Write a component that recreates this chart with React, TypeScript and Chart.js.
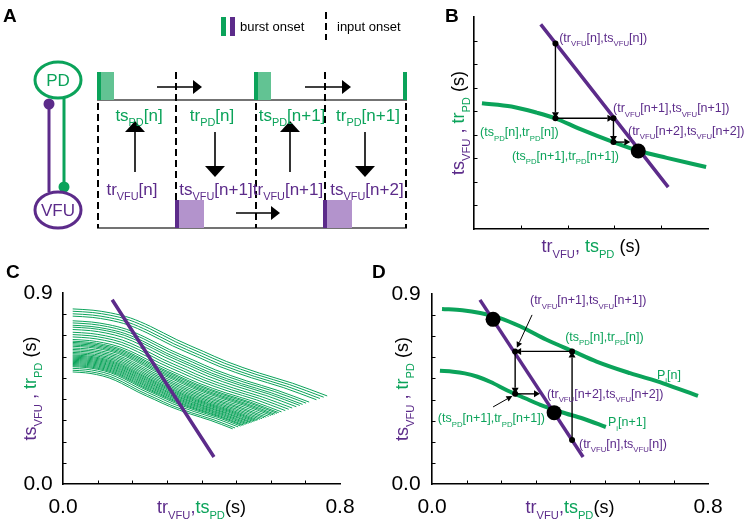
import React, { useEffect, useRef } from "react";
import { Chart, registerables } from "chart.js";
Chart.register(...registerables);

const FONT = '"Liberation Sans", Arial, Helvetica, sans-serif';
const GREEN = "#0ba35a";
const GREEN_LIGHT = "#62c393";
const PURPLE = "#5c2b8a";
const PURPLE_LIGHT = "#b393cc";
const BLACK = "#000000";

// ---------------- Panel A: schematic timeline (time in arbitrary units) ----------------
const timelineStart = 0;
const timelineEnd = 310;
const pdBurstOnsets = [0, 157, 306];
const pdBurstDurations = [17, 17, 4];
const vfuBurstOnsets = [78, 226];
const vfuBurstDurations = [29, 29];
const onsetMarkWidth = 4;
const pdInputTimes = [1, 159, 309];
const vfuInputTimes = [79, 228];
const pdLabelTimes = [42, 115, 195, 271];
const pdLabels = ["ts_{PD}[n]", "tr_{PD}[n]", "ts_{PD}[n+1]", "tr_{PD}[n+1]"];
const vfuLabelTimes = [35, 119, 191, 270];
const vfuLabels = ["tr_{VFU}[n]", "ts_{VFU}[n+1]", "tr_{VFU}[n+1]", "ts_{VFU}[n+2]"];
const upArrowTimes = [38, 193];
const downArrowTimes = [118, 268];
const pdShiftArrowStarts = [60, 208];
const pdShiftArrowEnds = [105, 254];
const vfuShiftArrowStarts = [139];
const vfuShiftArrowEnds = [183];

const profileT = [0, 0.08, 0.149, 0.227, 0.305, 0.409, 0.513, 0.604, 0.734, 0.864, 1];
const profileS = [1, 0.985, 0.954, 0.896, 0.8, 0.646, 0.512, 0.396, 0.262, 0.146, 0];

// ---------------- Panel B ----------------
const bGreenX = [0.017, 0.08, 0.134, 0.174, 0.226, 0.298, 0.353, 0.412, 0.496];
const bGreenY = [0.534, 0.52, 0.494, 0.47, 0.425, 0.369, 0.331, 0.302, 0.263];
const bPurpleX = [0.1426, 0.415];
const bPurpleY = [0.869, 0.178];
const bIterX = [0.174, 0.174, 0.298, 0.298];
const bIterY = [0.788, 0.47, 0.47, 0.369];
const bPathX = [0.174, 0.174, 0.298, 0.298, 0.334];
const bPathY = [0.788, 0.47, 0.47, 0.369, 0.369];
const bFixedX = [0.351];
const bFixedY = [0.331];
const bLabelText = [
  "(tr_{VFU}[n],ts_{VFU}[n])",
  "(tr_{VFU}[n+1],ts_{VFU}[n+1])",
  "(tr_{VFU}[n+2],ts_{VFU}[n+2])",
  "(ts_{PD}[n],tr_{PD}[n])",
  "(ts_{PD}[n+1],tr_{PD}[n+1])",
];
const bLabelX = [0.182, 0.297, 0.329, 0.013, 0.081];
const bLabelY = [0.815, 0.514, 0.42, 0.412, 0.314];
const bLabelIsGreen = [false, false, false, true, true];

// ---------------- Panel C ----------------
const cPurpleX = [0.142, 0.436];
const cPurpleY = [0.868, 0.127];
const cStartX = 0.028;
const cStartY = [
  0.825, 0.814, 0.802, 0.791, 0.769, 0.759, 0.748, 0.739, 0.728, 0.715, 0.704, 0.693, 0.681,
  0.673, 0.667, 0.661, 0.655, 0.649, 0.641, 0.634, 0.627, 0.62, 0.614, 0.608, 0.603, 0.598,
  0.593, 0.588, 0.583, 0.578, 0.573, 0.568, 0.563, 0.558, 0.553, 0.545, 0.536, 0.528,
];
const cEndX = [
  0.763, 0.753, 0.742, 0.732, 0.711, 0.702, 0.692, 0.684, 0.674, 0.662, 0.652, 0.642, 0.631,
  0.623, 0.618, 0.612, 0.607, 0.601, 0.594, 0.587, 0.581, 0.575, 0.569, 0.563, 0.559, 0.554,
  0.55, 0.545, 0.541, 0.536, 0.531, 0.527, 0.522, 0.518, 0.513, 0.506, 0.497, 0.49,
];
const cEndY = [
  0.415, 0.409, 0.403, 0.397, 0.386, 0.381, 0.375, 0.37, 0.364, 0.358, 0.352, 0.346, 0.34,
  0.336, 0.333, 0.329, 0.326, 0.323, 0.319, 0.315, 0.312, 0.308, 0.305, 0.302, 0.299, 0.297,
  0.294, 0.291, 0.289, 0.286, 0.284, 0.281, 0.278, 0.276, 0.273, 0.269, 0.264, 0.26,
];

// ---------------- Panel D ----------------
const dUpperX = [0.029, 0.088, 0.14, 0.197, 0.255, 0.332, 0.41, 0.477, 0.574, 0.67, 0.771];
const dUpperY = [0.829, 0.823, 0.81, 0.786, 0.747, 0.683, 0.628, 0.58, 0.525, 0.477, 0.417];
const dLowerX = [0.023, 0.061, 0.095, 0.132, 0.17, 0.22, 0.27, 0.314, 0.376, 0.439, 0.504];
const dLowerY = [0.536, 0.532, 0.524, 0.508, 0.483, 0.442, 0.406, 0.375, 0.34, 0.309, 0.27];
const dPurpleX = [0.139, 0.438];
const dPurpleY = [0.872, 0.128];
const dIterX = [0.406, 0.406, 0.241, 0.241];
const dIterY = [0.209, 0.628, 0.628, 0.427];
const dPathX = [0.406, 0.406, 0.241, 0.241, 0.313];
const dPathY = [0.209, 0.628, 0.628, 0.427, 0.427];
const dFixedX = [0.177, 0.354];
const dFixedY = [0.78, 0.338];
const dPointerFromX = [0.29, 0.177];
const dPointerFromY = [0.801, 0.365];
const dPointerToX = [0.246, 0.233];
const dPointerToY = [0.645, 0.417];
const dLabelText = [
  "(tr_{VFU}[n+1],ts_{VFU}[n+1])",
  "(ts_{PD}[n],tr_{PD}[n])",
  "P_{i}[n]",
  "(tr_{VFU}[n+2],ts_{VFU}[n+2])",
  "(ts_{PD}[n+1],tr_{PD}[n+1])",
  "P_{i}[n+1]",
  "(tr_{VFU}[n],ts_{VFU}[n])",
];
const dLabelX = [0.284, 0.386, 0.652, 0.333, 0.017, 0.51, 0.426];
const dLabelY = [0.872, 0.701, 0.521, 0.431, 0.313, 0.294, 0.194];
const dLabelIsGreen = [false, true, true, false, true, true, false];

// ---------------- helpers ----------------
type Seg = { t: string; c: string; sub?: boolean };

function rich(str: string, color: string): Seg[] {
  const out: Seg[] = [];
  const re = /_\{([^}]*)\}/g;
  let last = 0;
  let m: RegExpExecArray | null;
  while ((m = re.exec(str))) {
    if (m.index > last) out.push({ t: str.slice(last, m.index), c: color });
    out.push({ t: m[1], c: color, sub: true });
    last = m.index + m[0].length;
  }
  if (last < str.length) out.push({ t: str.slice(last), c: color });
  return out;
}

function drawRich(ctx: CanvasRenderingContext2D, segs: Seg[], x: number, y: number, size: number, align = "left", subRatio = 0.62, subDrop = 0.32) {
  const subSize = size * subRatio;
  const widths = segs.map((s) => {
    ctx.font = `${s.sub ? subSize : size}px ${FONT}`;
    return ctx.measureText(s.t).width;
  });
  const total = widths.reduce((a, b) => a + b, 0);
  let cx = align === "center" ? x - total / 2 : x;
  const base = y + size * 0.36;
  ctx.textAlign = "left";
  ctx.textBaseline = "alphabetic";
  segs.forEach((s, i) => {
    ctx.font = `${s.sub ? subSize : size}px ${FONT}`;
    ctx.fillStyle = s.c;
    ctx.fillText(s.t, cx, s.sub ? base + size * subDrop : base);
    cx += widths[i];
  });
}

function arrow(ctx: CanvasRenderingContext2D, x0: number, y0: number, x1: number, y1: number, head: number, half: number, lw: number, color = BLACK) {
  const dx = x1 - x0;
  const dy = y1 - y0;
  const len = Math.hypot(dx, dy) || 1;
  const ux = dx / len;
  const uy = dy / len;
  const bx = x1 - ux * head;
  const by = y1 - uy * head;
  ctx.strokeStyle = color;
  ctx.lineWidth = lw;
  ctx.setLineDash([]);
  ctx.beginPath();
  ctx.moveTo(x0, y0);
  ctx.lineTo(bx, by);
  ctx.stroke();
  ctx.fillStyle = color;
  ctx.beginPath();
  ctx.moveTo(x1, y1);
  ctx.lineTo(bx - uy * half, by + ux * half);
  ctx.lineTo(bx + uy * half, by - ux * half);
  ctx.closePath();
  ctx.fill();
}

const pts = (xs: number[], ys: number[]) => xs.map((x, i) => ({ x, y: ys[i] }));

function profileCurve(x0: number, y0: number, x1: number, y1: number) {
  return profileT.map((t, k) => ({ x: x0 + t * (x1 - x0), y: y1 + profileS[k] * (y0 - y1) }));
}

function lineDs(data: any[], color: string, width: number, order = 5) {
  return {
    data,
    showLine: true,
    borderColor: color,
    borderWidth: width,
    pointRadius: 0,
    cubicInterpolationMode: "monotone",
    fill: false,
    order,
  };
}

function dotDs(data: any[], r: number) {
  return { data, showLine: false, pointRadius: r, backgroundColor: BLACK, borderWidth: 0, order: 0 };
}

function baseOptions(pad: any, xMax: number, yMax: number, showAxes: boolean) {
  const axis = (max: number, position: string) => ({
    type: "linear",
    position,
    min: 0,
    max,
    display: showAxes,
    grid: { display: false, drawTicks: false },
    ticks: { display: false, stepSize: 0.1 },
    border: { display: true, color: BLACK, width: 1.6 },
  });
  return {
    responsive: false,
    animation: false,
    events: [],
    layout: { padding: pad },
    plugins: { legend: { display: false }, tooltip: { enabled: false } },
    scales: { x: axis(xMax, "bottom"), y: axis(yMax, "left") },
  };
}

const xTitleTight: Seg[] = [...rich("tr_{VFU}", PURPLE), { t: ",", c: PURPLE }, ...rich("ts_{PD}", GREEN), { t: "(s)", c: BLACK }];
const xTitleSpaced: Seg[] = [...rich("tr_{VFU}", PURPLE), { t: ", ", c: PURPLE }, ...rich("ts_{PD}", GREEN), { t: " (s)", c: BLACK }];
const yTitle: Seg[] = [...rich("ts_{VFU}", PURPLE), { t: " , ", c: PURPLE }, ...rich("tr_{PD}", GREEN), { t: " (s)", c: BLACK }];

function axisDecor(id: string, cfg: any) {
  return {
    id,
    afterDraw(chart: any) {
      const { ctx, chartArea: a } = chart;
      const xs = chart.scales.x;
      const ys = chart.scales.y;
      ctx.save();
      ctx.strokeStyle = BLACK;
      ctx.lineWidth = 1;
      xs.ticks.forEach((t: any) => {
        if (t.value <= xs.min + 1e-9 || t.value >= xs.max - 1e-9) return;
        const px = Math.round(xs.getPixelForValue(t.value)) + 0.5;
        ctx.beginPath();
        ctx.moveTo(px, a.bottom);
        ctx.lineTo(px, a.bottom - 3.5);
        ctx.stroke();
      });
      ys.ticks.forEach((t: any) => {
        if (t.value <= ys.min + 1e-9 || t.value >= ys.max - 1e-9) return;
        const py = Math.round(ys.getPixelForValue(t.value)) + 0.5;
        ctx.beginPath();
        ctx.moveTo(a.left, py);
        ctx.lineTo(a.left + 3.5, py);
        ctx.stroke();
      });
      ctx.fillStyle = BLACK;
      ctx.font = `21px ${FONT}`;
      ctx.textAlign = "center";
      ctx.textBaseline = "middle";
      (cfg.xTickLabels || []).forEach((v: number) => {
        ctx.fillText(v.toFixed(1), xs.getPixelForValue(v), a.bottom + cfg.xLabelDy);
      });
      (cfg.yTickLabels || []).forEach((v: number) => {
        ctx.fillText(v.toFixed(1), a.left + cfg.yLabelDx, ys.getPixelForValue(v));
      });
      drawRich(ctx, cfg.xTitle, (a.left + a.right) / 2, a.bottom + cfg.xTitleDy, 18, "center", 0.62, 0.3);
      ctx.translate(a.left + cfg.yTitleDx, (a.top + a.bottom) / 2);
      ctx.rotate(-Math.PI / 2);
      drawRich(ctx, yTitle, 0, 0, 18, "center", 0.62, 0.3);
      ctx.restore();
    },
  };
}

// ---------------- Panel A plugin ----------------
const panelAPlugin = {
  id: "panelA",
  afterDatasetsDraw(chart: any) {
    const ctx: CanvasRenderingContext2D = chart.ctx;
    const X = (v: number) => chart.scales.x.getPixelForValue(v);
    const Y = (v: number) => chart.scales.y.getPixelForValue(v);
    const TOP = 128;
    const BURST_H = 28;
    ctx.save();
    // bursts
    pdBurstOnsets.forEach((t, i) => {
      ctx.fillStyle = GREEN_LIGHT;
      ctx.fillRect(X(t), Y(TOP + BURST_H), X(t + pdBurstDurations[i]) - X(t), Y(TOP) - Y(TOP + BURST_H));
      ctx.fillStyle = GREEN;
      ctx.fillRect(X(t), Y(TOP + BURST_H), X(t + Math.min(onsetMarkWidth, pdBurstDurations[i])) - X(t), Y(TOP) - Y(TOP + BURST_H));
    });
    vfuBurstOnsets.forEach((t, i) => {
      ctx.fillStyle = PURPLE_LIGHT;
      ctx.fillRect(X(t), Y(BURST_H), X(t + vfuBurstDurations[i]) - X(t), Y(0) - Y(BURST_H));
      ctx.fillStyle = PURPLE;
      ctx.fillRect(X(t), Y(BURST_H), X(t + onsetMarkWidth) - X(t), Y(0) - Y(BURST_H));
    });
    // input onsets (dashed)
    ctx.strokeStyle = BLACK;
    ctx.lineWidth = 2;
    ctx.setLineDash([7, 4]);
    pdInputTimes.forEach((t) => {
      ctx.beginPath();
      ctx.moveTo(X(t), Y(TOP) + 3);
      ctx.lineTo(X(t), Y(0));
      ctx.stroke();
    });
    vfuInputTimes.forEach((t) => {
      ctx.beginPath();
      ctx.moveTo(X(t), Y(TOP + BURST_H));
      ctx.lineTo(X(t), Y(BURST_H));
      ctx.stroke();
    });
    ctx.setLineDash([]);
    // shift arrows
    pdShiftArrowStarts.forEach((s, i) => arrow(ctx, X(s), Y(141), X(pdShiftArrowEnds[i]), Y(141), 9, 7, 1.6));
    vfuShiftArrowStarts.forEach((s, i) => arrow(ctx, X(s), Y(15), X(vfuShiftArrowEnds[i]), Y(15), 9, 7, 1.6));
    // vertical arrows
    upArrowTimes.forEach((t) => arrow(ctx, X(t), Y(56), X(t), Y(107), 11, 10, 1.6));
    downArrowTimes.forEach((t) => arrow(ctx, X(t), Y(96), X(t), Y(51), 11, 10, 1.6));
    // labels
    pdLabels.forEach((s, i) => drawRich(ctx, rich(s, GREEN), X(pdLabelTimes[i]), Y(113), 17, "center", 0.64, 0.3));
    vfuLabels.forEach((s, i) => drawRich(ctx, rich(s, PURPLE), X(vfuLabelTimes[i]), Y(39), 17, "center", 0.64, 0.3));

    // network diagram
    const nodeRx = X(23) - X(0);
    const nodeRy = Y(0) - Y(18);
    ctx.lineWidth = 3;
    ctx.strokeStyle = PURPLE;
    ctx.beginPath();
    ctx.moveTo(X(-48), Y(36));
    ctx.lineTo(X(-48), Y(124));
    ctx.stroke();
    ctx.fillStyle = PURPLE;
    ctx.beginPath();
    ctx.arc(X(-48), Y(124), 5.5, 0, Math.PI * 2);
    ctx.fill();
    ctx.strokeStyle = GREEN;
    ctx.beginPath();
    ctx.moveTo(X(-33), Y(131));
    ctx.lineTo(X(-33), Y(41));
    ctx.stroke();
    ctx.fillStyle = GREEN;
    ctx.beginPath();
    ctx.arc(X(-33), Y(41), 5.5, 0, Math.PI * 2);
    ctx.fill();
    ctx.fillStyle = "#fff";
    ctx.lineWidth = 3;
    ctx.strokeStyle = GREEN;
    ctx.beginPath();
    ctx.ellipse(X(-39), Y(148), nodeRx, nodeRy, 0, 0, Math.PI * 2);
    ctx.fill();
    ctx.stroke();
    ctx.strokeStyle = PURPLE;
    ctx.beginPath();
    ctx.ellipse(X(-39), Y(18), nodeRx, nodeRy, 0, 0, Math.PI * 2);
    ctx.fill();
    ctx.stroke();
    ctx.font = `17px ${FONT}`;
    ctx.textAlign = "center";
    ctx.textBaseline = "middle";
    ctx.fillStyle = GREEN;
    ctx.fillText("PD", X(-39), Y(148) + 1);
    ctx.fillStyle = PURPLE;
    ctx.fillText("VFU", X(-39), Y(18) + 1);

    // legend
    ctx.fillStyle = GREEN;
    ctx.fillRect(X(124), Y(211), X(129) - X(124), Y(192) - Y(211));
    ctx.fillStyle = PURPLE;
    ctx.fillRect(X(133), Y(211), X(138) - X(133), Y(192) - Y(211));
    ctx.fillStyle = BLACK;
    ctx.font = `13px ${FONT}`;
    ctx.textAlign = "left";
    ctx.fillText("burst onset", X(143), Y(201));
    ctx.fillText("input onset", X(240), Y(201));
    ctx.strokeStyle = BLACK;
    ctx.lineWidth = 2;
    ctx.setLineDash([7, 4]);
    ctx.beginPath();
    ctx.moveTo(X(229), Y(216));
    ctx.lineTo(X(229), Y(188));
    ctx.stroke();
    ctx.setLineDash([]);

    // panel letters
    ctx.fillStyle = BLACK;
    ctx.font = `bold 19px ${FONT}`;
    ctx.textAlign = "left";
    ctx.textBaseline = "alphabetic";
    ctx.fillText("A", 3, 22);
    ctx.fillText("B", 445, 22);
    ctx.fillText("C", 6, 278);
    ctx.fillText("D", 372, 278);
    ctx.restore();
  },
};

// ---------------- Panel B / D overlay plugins ----------------
const panelBPlugin = {
  id: "panelB",
  afterDatasetsDraw(chart: any) {
    const ctx: CanvasRenderingContext2D = chart.ctx;
    const X = (v: number) => chart.scales.x.getPixelForValue(v);
    const Y = (v: number) => chart.scales.y.getPixelForValue(v);
    ctx.save();
    for (let i = 0; i < bPathX.length - 1; i++) {
      arrow(ctx, X(bPathX[i]), Y(bPathY[i]), X(bPathX[i + 1]), Y(bPathY[i + 1]), 6, 3.5, 1.4);
    }
    bLabelText.forEach((s, i) =>
      drawRich(ctx, rich(s, bLabelIsGreen[i] ? GREEN : PURPLE), X(bLabelX[i]), Y(bLabelY[i]), 12.5, "left", 0.62, 0.38)
    );
    ctx.restore();
  },
};

const panelDPlugin = {
  id: "panelD",
  afterDatasetsDraw(chart: any) {
    const ctx: CanvasRenderingContext2D = chart.ctx;
    const X = (v: number) => chart.scales.x.getPixelForValue(v);
    const Y = (v: number) => chart.scales.y.getPixelForValue(v);
    ctx.save();
    for (let i = 0; i < dPathX.length - 1; i++) {
      arrow(ctx, X(dPathX[i]), Y(dPathY[i]), X(dPathX[i + 1]), Y(dPathY[i + 1]), 6, 3.5, 1.4);
    }
    dPointerFromX.forEach((x0, i) =>
      arrow(ctx, X(x0), Y(dPointerFromY[i]), X(dPointerToX[i]), Y(dPointerToY[i]), 6, 3, 1)
    );
    dLabelText.forEach((s, i) =>
      drawRich(ctx, rich(s, dLabelIsGreen[i] ? GREEN : PURPLE), X(dLabelX[i]), Y(dLabelY[i]), 12.5, "left", 0.62, 0.38)
    );
    ctx.restore();
  },
};

function configA(): any {
  return {
    type: "scatter",
    data: {
      datasets: [
        { ...lineDs(pts([timelineStart, timelineEnd], [128, 128]), "#444", 1.5), clip: false },
        { ...lineDs(pts([timelineStart, timelineEnd], [0, 0]), "#444", 1.5), clip: false },
      ],
    },
    options: baseOptions({ left: 97, right: 340, top: 72, bottom: 293 }, timelineEnd, 156, false),
    plugins: [panelAPlugin],
  };
}

function configB(): any {
  return {
    type: "scatter",
    data: {
      datasets: [
        dotDs(pts(bIterX, bIterY), 3),
        dotDs(pts(bFixedX, bFixedY), 7.5),
        lineDs(pts(bPurpleX, bPurpleY), PURPLE, 3.5, 4),
        lineDs(pts(bGreenX, bGreenY), GREEN, 4, 5),
      ],
    },
    options: baseOptions({ left: 474, right: 39, top: 17, bottom: 292 }, 0.5, 0.9, true),
    plugins: [
      panelBPlugin,
      axisDecor("axesB", { xTitle: xTitleSpaced, xTitleDy: 17, yTitleDx: -16 }),
    ],
  };
}

function configC(): any {
  const greens = cStartY.map((y0, i) => lineDs(profileCurve(cStartX, y0, cEndX[i], cEndY[i]), GREEN, 1, 5));
  return {
    type: "scatter",
    data: { datasets: [lineDs(pts(cPurpleX, cPurpleY), PURPLE, 3.5, 1), ...greens] },
    options: baseOptions({ left: 63, right: 407, top: 293, bottom: 37 }, 0.8, 0.9, true),
    plugins: [
      axisDecor("axesC", {
        xTitle: xTitleTight,
        xTitleDy: 23,
        yTitleDx: -33,
        xTickLabels: [0, 0.8],
        yTickLabels: [0, 0.9],
        xLabelDy: 23,
        yLabelDx: -25,
      }),
    ],
  };
}

function configD(): any {
  return {
    type: "scatter",
    data: {
      datasets: [
        dotDs(pts(dIterX, dIterY), 3),
        dotDs(pts(dFixedX, dFixedY), 7.5),
        lineDs(pts(dPurpleX, dPurpleY), PURPLE, 3.5, 4),
        lineDs(pts(dUpperX, dUpperY), GREEN, 4, 5),
        lineDs(pts(dLowerX, dLowerY), GREEN, 4, 5),
      ],
    },
    options: baseOptions({ left: 432, right: 39, top: 294, bottom: 37 }, 0.8, 0.9, true),
    plugins: [
      panelDPlugin,
      axisDecor("axesD", {
        xTitle: xTitleTight,
        xTitleDy: 23,
        yTitleDx: -30,
        xTickLabels: [0, 0.8],
        yTickLabels: [0, 0.9],
        xLabelDy: 23,
        yLabelDx: -26,
      }),
    ],
  };
}

export default function App() {
  const refA = useRef<HTMLCanvasElement>(null);
  const refB = useRef<HTMLCanvasElement>(null);
  const refC = useRef<HTMLCanvasElement>(null);
  const refD = useRef<HTMLCanvasElement>(null);

  useEffect(() => {
    const charts = [
      new Chart(refA.current as HTMLCanvasElement, configA()),
      new Chart(refB.current as HTMLCanvasElement, configB()),
      new Chart(refC.current as HTMLCanvasElement, configC()),
      new Chart(refD.current as HTMLCanvasElement, configD()),
    ];
    return () => charts.forEach((c) => c.destroy());
  }, []);

  const cs: React.CSSProperties = { position: "absolute", left: 0, top: 0, width: 747, height: 521 };
  return (
    <div style={{ position: "absolute", left: 0, top: 0, width: 747, height: 521, background: "#fff", overflow: "hidden" }}>
      <canvas ref={refA} width={747} height={521} style={cs} />
      <canvas ref={refB} width={747} height={521} style={cs} />
      <canvas ref={refC} width={747} height={521} style={cs} />
      <canvas ref={refD} width={747} height={521} style={cs} />
    </div>
  );
}
